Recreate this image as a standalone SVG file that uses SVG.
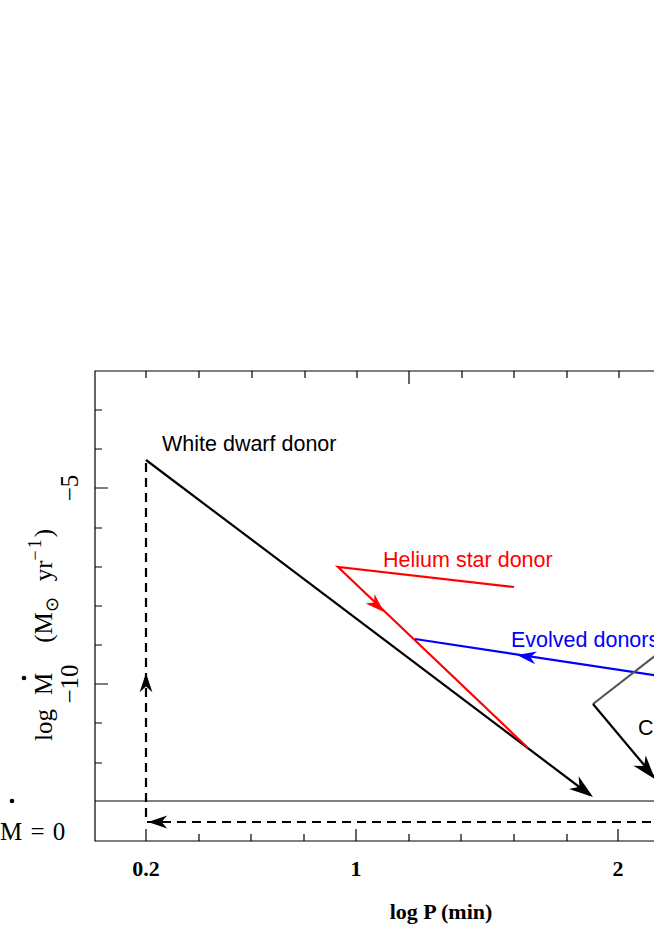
<svg xmlns="http://www.w3.org/2000/svg" width="654" height="925" viewBox="0 0 654 925">
<style>
.ax{stroke:#000;stroke-width:1.2;fill:none}
.ln{stroke-width:2.2;fill:none}
.lab{font-family:"Liberation Sans",Arial,sans-serif;font-size:21.5px}
.ser{font-family:"Liberation Serif","Times New Roman",serif;font-size:25px}
.bold{font-family:"Liberation Serif","Times New Roman",serif;font-size:22px;font-weight:bold}
</style>
<defs>
<path id="ah" d="M0,0 L-24,-8 L-17,0 L-24,8 Z"/>
</defs>
<rect width="654" height="925" fill="#fff"/>
<g id="frame" class="ax">
<path d="M660,371 H95 V841 H660"/>
<path d="M95,801 H660"/>
<path d="M146,371v7M199,371v7M252,371v7M305,371v7M357,371v7M409,371v13M462,371v7M514,371v7M567,371v7M619,371v7"/>
<path d="M146,841v-12M199,841v-7M251,841v-7M304,841v-7M356,841v-12M409,841v-7M461,841v-7M514,841v-7M567,841v-7M618,841v-12"/>
<path d="M95,410h7M95,449h7M95,488h13M95,528h7M95,567h7M95,606h7M95,645h7M95,684h13M95,723h7M95,763h7"/>
</g>
<g id="connectors">
<path class="ln" stroke="#000" d="M146,460 L590,795"/>
<use href="#ah" fill="#000" transform="translate(593,797) rotate(37)"/>
<path class="ln" stroke="#000" stroke-dasharray="9,6" d="M146,463 V822 H654"/>
<use href="#ah" fill="#000" transform="translate(146,673) rotate(-90) scale(0.8)"/>
<use href="#ah" fill="#000" transform="translate(148,822) rotate(180) scale(0.8)"/>
<path class="ln" stroke="#f00" d="M514,587 L338,567 L528,748"/>
<use href="#ah" fill="#f00" transform="translate(384,612) rotate(43.6) scale(0.8)"/>
<path class="ln" stroke="#00f" d="M415,639 L660,676"/>
<use href="#ah" fill="#00f" transform="translate(517,655) rotate(188.6) scale(0.8)"/>
<path class="ln" stroke="#555" d="M593,704 L660,652"/>
<path class="ln" stroke="#000" d="M593,704 L660,784"/>
<use href="#ah" fill="#000" transform="translate(655,779) rotate(50)"/>
</g>
<g id="labels">
<text class="lab" x="162" y="451">White dwarf donor</text>
<text class="lab" x="383" y="567" fill="#f00">Helium star donor</text>
<text class="lab" x="511" y="647" fill="#00f">Evolved donors</text>
<text class="lab" x="638" y="735">C</text>
<text class="bold" x="146" y="876" text-anchor="middle">0.2</text>
<text class="bold" x="356" y="876" text-anchor="middle">1</text>
<text class="bold" x="618" y="876" text-anchor="middle">2</text>
<text class="bold" x="441" y="919" text-anchor="middle">log P (min)</text>
<text class="ser" x="78" y="488" text-anchor="middle" transform="rotate(-90 78 488)">−5</text>
<text class="ser" x="78" y="684" text-anchor="middle" transform="rotate(-90 78 684)">−10</text>
<g transform="translate(52,741) rotate(-90)">
<text class="ser" x="0" y="0" font-size="26">log<tspan dx="14">M</tspan><tspan dx="30">(M</tspan><tspan font-size="18" dy="6">⊙</tspan><tspan dx="16" dy="-6">yr</tspan><tspan font-size="18" dy="-11" letter-spacing="2">−1</tspan><tspan dy="11">)</tspan></text>
<circle cx="63" cy="-28" r="2.3" fill="#000"/>
</g>
<text class="ser" x="0" y="840" font-size="28" word-spacing="2">M = 0</text>
<circle cx="12" cy="801" r="2.3" fill="#000"/>
</g>
</svg>
